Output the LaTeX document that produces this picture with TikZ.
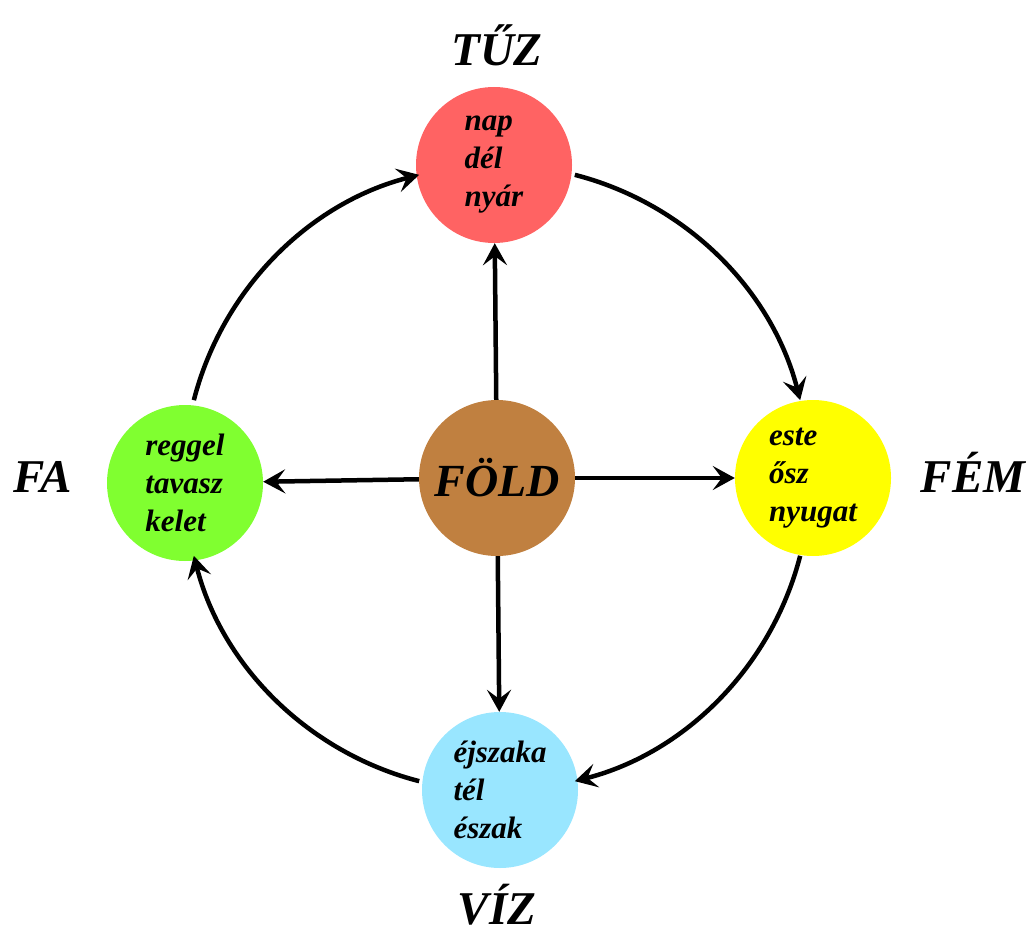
\documentclass[tikz,border=0pt]{standalone}
\usepackage{fontspec}
\setmainfont{Liberation Serif}
\usetikzlibrary{arrows.meta,calc}
\definecolor{tuzc}{RGB}{255,99,99}
\definecolor{fac}{RGB}{128,255,48}
\definecolor{foldc}{RGB}{192,128,64}
\definecolor{femc}{RGB}{255,255,0}
\definecolor{vizc}{RGB}{153,230,255}
\begin{document}
\begin{tikzpicture}[x=1pt,y=-1pt,
  elem/.style={circle,minimum size=156pt,inner sep=0pt,align=left,
    font=\fontsize{31}{38}\selectfont\bfseries\itshape},
  ttl/.style={inner sep=0pt,font=\fontsize{47}{52}\selectfont\bfseries\itshape},
  arr/.style={line width=4.5pt,-{Stealth[length=22pt,width=24pt,inset=9pt]}}]
\useasboundingbox (0,0) rectangle (1032,933);
% elements
\node[elem,fill=tuzc]  (tuz)  at (494,165) {nap\\dél\\nyár};
\node[elem,fill=fac]   (fa)   at (185,483) {reggel\\tavasz\\kelet};
\node[elem,fill=foldc,font=\fontsize{46}{50}\selectfont\bfseries\itshape] (fold) at (497,478) {FÖLD};
\node[elem,fill=femc]  (fem)  at (813,478) {este\\ősz\\nyugat};
\node[elem,fill=vizc]  (viz)  at (500,790) {éjszaka\\tél\\észak};
% titles
\node[ttl] (ttuz) at (497,45) {TŰZ};
\node[ttl] (tfa)  at (43,477) {FA};
\node[ttl] (tfem) at (973,472) {FÉM};
\node[ttl] (tviz) at (497,905) {VÍZ};
% straight arrows
\draw[arr] (fold) -- (tuz);
\draw[arr] (fold) -- (fa);
\draw[arr] (fold) -- (fem);
\draw[arr] (fold) -- (viz);
% cycle arcs
\draw[arr] ($(fold)+(-165.6:313)$) arc[start angle=-165.6,end angle=-104.4,radius=313];
\draw[arr] ($(fold)+(-75.6:313)$) arc[start angle=-75.6,end angle=-14.4,radius=313];
\draw[arr] ($(fold)+(14.4:313)$) arc[start angle=14.4,end angle=75.6,radius=313];
\draw[arr] ($(fold)+(104.4:313)$) arc[start angle=104.4,end angle=165.6,radius=313];
\end{tikzpicture}
\end{document}
